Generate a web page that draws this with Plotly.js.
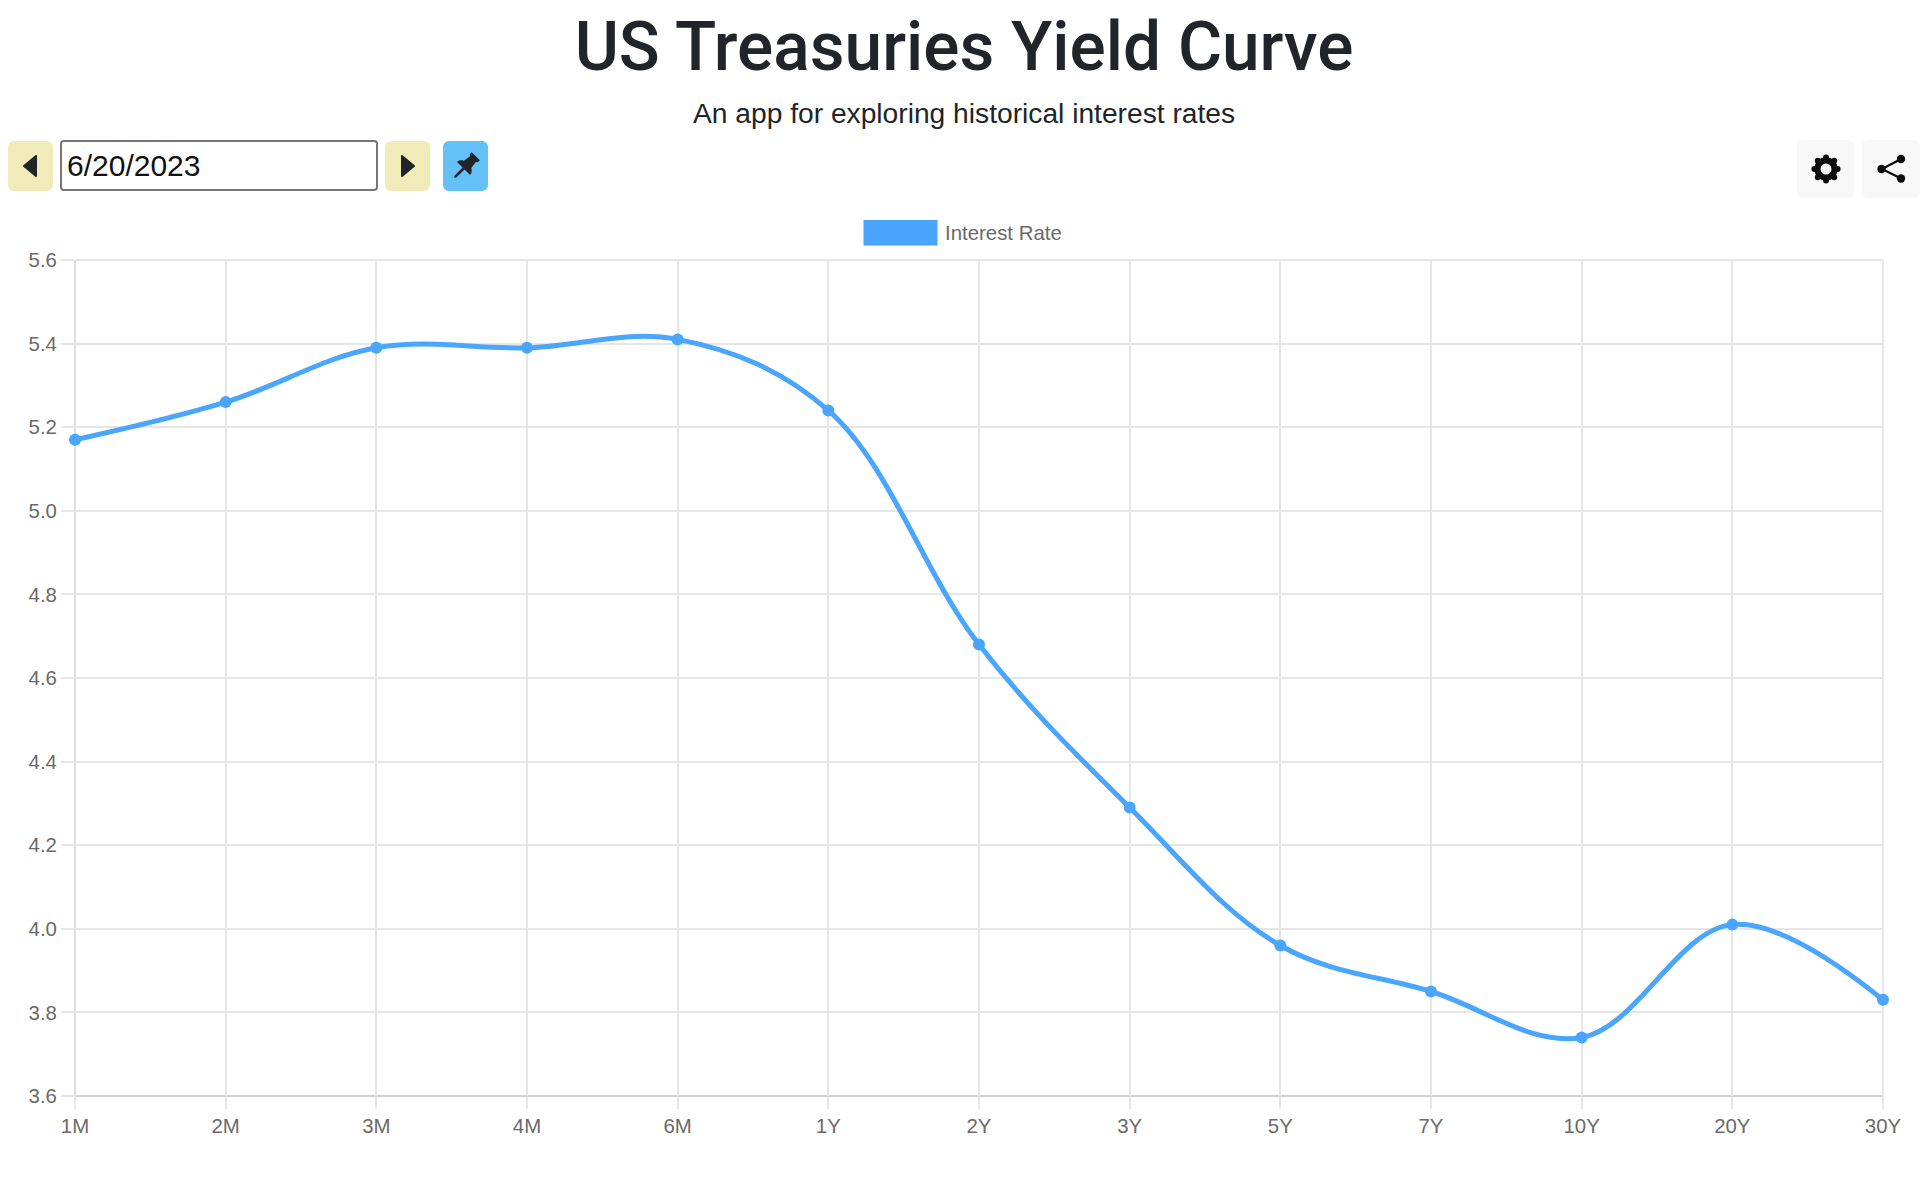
<!DOCTYPE html>
<html>
<head>
<meta charset="utf-8">
<script src="https://cdn.plot.ly/plotly-3.0.1.min.js"></script>
<style>
html,body{margin:0;padding:0;background:#fff;width:1920px;height:1183px;overflow:hidden;font-family:"Liberation Sans",sans-serif}
#chart{position:absolute;left:0;top:0;width:1920px;height:1183px}
.btn{position:absolute;border-radius:6px;display:flex;align-items:center;justify-content:center}
#date{position:absolute;left:60px;top:140px;width:318px;height:51px;box-sizing:border-box;border:2px solid #767676;border-radius:4px;background:#fff;color:#111;font-size:30px;line-height:47px;padding-left:5px}
</style>
</head>
<body>
<div id="chart"></div>
<div class="btn" style="left:8px;top:141px;width:45px;height:50px;background:#f0ebb9"><svg width="16" height="24" viewBox="0 0 16 24"><path d="M13 2 V22 L1 12 Z" fill="#212529" stroke="#212529" stroke-width="2" stroke-linejoin="round"/></svg></div>
<div id="date"></div>
<div class="btn" style="left:385px;top:141px;width:45px;height:50px;background:#f0ebb9"><svg width="16" height="24" viewBox="0 0 16 24"><path d="M2 2 V22 L14 12 Z" fill="#212529" stroke="#212529" stroke-width="2" stroke-linejoin="round"/></svg></div>
<div class="btn" style="left:443px;top:141px;width:45px;height:50px;background:#65c0f5"><svg width="30" height="30" viewBox="0 0 26 26"><g transform="rotate(45 13 13)" fill="#212529"><path d="M8 1 H18 V3.5 L16.5 4.5 L17.5 11 C20 12.5 21 14 21 16 H14.2 V26 L13 27.5 L11.8 26 V16 H5 C5 14 6 12.5 8.5 11 L9.5 4.5 L8 3.5 Z"/></g></svg></div>
<div class="btn" style="left:1797px;top:140px;width:57px;height:58px;background:#f8f8f8"><svg width="30" height="30" viewBox="0 0 30 30"><circle cx="15" cy="15" r="8.6" fill="none" stroke="#0c0c0c" stroke-width="6.2"/><g fill="#0c0c0c"><circle cx="15" cy="3.4" r="3"/><circle cx="15" cy="26.6" r="3"/><circle cx="3.4" cy="15" r="3"/><circle cx="26.6" cy="15" r="3"/><circle cx="6.8" cy="6.8" r="3"/><circle cx="23.2" cy="6.8" r="3"/><circle cx="6.8" cy="23.2" r="3"/><circle cx="23.2" cy="23.2" r="3"/></g></svg></div>
<div class="btn" style="left:1862px;top:140px;width:58px;height:58px;background:#f8f8f8"><svg width="32" height="32" viewBox="0 0 32 32"><path d="M26 6 L7 16 L26 25.5" fill="none" stroke="#0c0c0c" stroke-width="2.2"/><g fill="#0c0c0c"><circle cx="26" cy="6" r="4.2"/><circle cx="6.5" cy="16" r="4.2"/><circle cx="26" cy="25.5" r="4.2"/></g></svg></div>
<script>
const tenors = ["1M","2M","3M","4M","6M","1Y","2Y","3Y","5Y","7Y","10Y","20Y","30Y"];
const rates = [5.17,5.26,5.39,5.39,5.41,5.24,4.68,4.29,3.96,3.85,3.74,4.01,3.83];
const yTicks = [3.6,3.8,4.0,4.2,4.4,4.6,4.8,5.0,5.2,5.4,5.6];
const titleText = "US Treasuries Yield Curve";
const subtitleText = "An app for exploring historical interest rates";
const dateText = "6/20/2023";
const seriesName = "Interest Rate";
document.getElementById("date").textContent = dateText;
const W = 1920, H = 1183, blue = "#4aa5fd";
const gridColor = "#e6e6e6", tickText = "#6a6a6a";
const edge = (x0, y0, x1, y1, color) => ({type: "line", xref: "paper", yref: "paper", x0, y0, x1, y1, layer: "below", line: {color, width: 1.8}});
Plotly.newPlot("chart", [{
  x: tenors, y: rates, type: "scatter", mode: "lines+markers", name: seriesName,
  line: {color: blue, width: 5, shape: "spline", smoothing: 1.05},
  marker: {color: blue, size: 12},
  cliponaxis: false, showlegend: false
}], {
  width: W, height: H,
  margin: {l: 75, r: 37, t: 260, b: 87, pad: 0},
  paper_bgcolor: "#fff", plot_bgcolor: "#fff",
  font: {family: '"Liberation Sans", sans-serif', color: tickText, size: 20},
  title: {text: titleText, x: 0.5021, xanchor: "center", y: 1 - 70/H, yanchor: "bottom",
          font: {family: 'Roboto, "Liberation Sans", sans-serif', size: 67.6, color: "#212529", weight: 500}},
  xaxis: {type: "category", categoryorder: "array", categoryarray: tenors, range: [0, 12],
          tickmode: "array", tickvals: tenors, ticktext: tenors,
          showgrid: true, gridcolor: gridColor, gridwidth: 1.6, ticks: "outside", ticklen: 12, tickwidth: 1.6, tickcolor: gridColor,
          showline: false, zeroline: false,
          tickfont: {size: 20.4, color: tickText}, fixedrange: true},
  yaxis: {range: [3.6, 5.6], tickmode: "array", tickvals: yTicks, ticktext: yTicks.map(v => v.toFixed(1)),
          showgrid: true, gridcolor: gridColor, gridwidth: 1.6, ticks: "outside", ticklen: 13, tickwidth: 1.6, tickcolor: gridColor,
          showline: false, zeroline: false,
          tickfont: {size: 20.4, color: tickText}, fixedrange: true},
  shapes: [{type: "rect", xref: "paper", yref: "paper",
            x0: (863.5-75)/(W-112), x1: (937.5-75)/(W-112),
            y0: (H-87-245.5)/(H-347), y1: (H-87-220)/(H-347),
            fillcolor: blue, line: {width: 0}},
           edge(0, 0, 1, 0, "#d2d2d2"), edge(0, 0, 0, 1, "#dcdcdc"), edge(0, 1, 1, 1, gridColor), edge(1, 0, 1, 1, gridColor)],
  annotations: [
    {text: subtitleText, xref: "paper", yref: "paper", x: (964-75)/(W-112), y: (H-87-113)/(H-347),
     xanchor: "center", yanchor: "middle", showarrow: false, font: {size: 28.2, color: "#212529"}},
    {text: seriesName, xref: "paper", yref: "paper", x: (943.5-75)/(W-112), y: (H-87-233)/(H-347),
     xanchor: "left", yanchor: "middle", showarrow: false, xshift: -1, font: {size: 20.4, color: tickText}}
  ]
}, {displayModeBar: false, responsive: false});
</script>
</body>
</html>
